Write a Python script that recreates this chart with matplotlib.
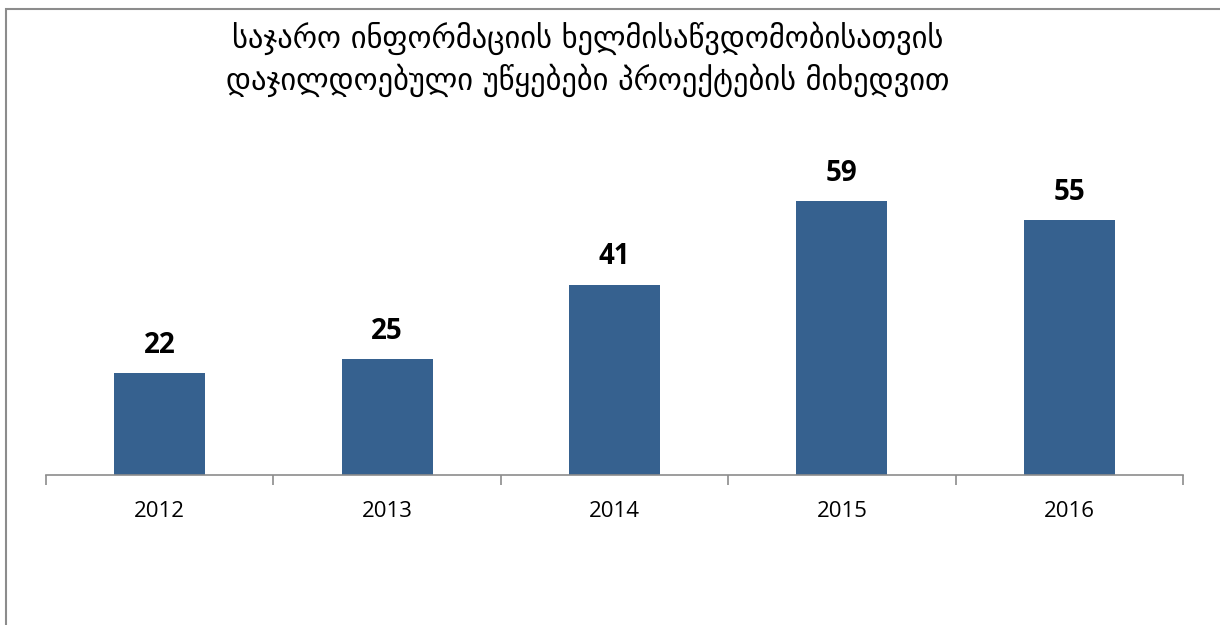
import matplotlib
matplotlib.use("Agg")
import matplotlib.pyplot as plt
from matplotlib.patches import Rectangle

years = ["2012", "2013", "2014", "2015", "2016"]
values = [22, 25, 41, 59, 55]
title_lines = ["საჯარო ინფორმაციის ხელმისაწვდომობისათვის",
               "დაჯილდოებული უწყებები პროექტების მიხედვით"]

W, H = 1220, 625
fig = plt.figure(figsize=(W / 100, H / 100), dpi=100)

# outer chart border (top & left visible)
fig.patches.append(Rectangle((6 / W, -0.1), 1.2, (H - 9) / H + 0.1, transform=fig.transFigure,
                             fill=False, edgecolor="#8c8c8c", linewidth=1.5))

ymax = 70
px_per_unit = 4.64
top_px = 475 - px_per_unit * ymax
ax = fig.add_axes([46 / W, 1 - 475 / H, (1183 - 46) / W, (475 - top_px) / H])
x = list(range(len(years)))
ax.bar(x, values, width=0.4, color="#36618F", zorder=2)
ax.set_xlim(-0.5, len(years) - 0.5)
ax.set_ylim(0, ymax)
for s in ["top", "right", "left"]:
    ax.spines[s].set_visible(False)
ax.spines["bottom"].set_color("#8c8c8c")
ax.spines["bottom"].set_linewidth(1.2)
ax.set_yticks([])
ax.set_xticks([i - 0.5 for i in range(len(years) + 1)])
ax.set_xticklabels([])
ax.set_xticks(x, minor=True)
ax.set_xticklabels(years, minor=True, fontsize=16, family=["Open Sans", "DejaVu Sans"])
ax.tick_params(axis="x", which="major", length=7, color="#8c8c8c", width=1.2)
ax.tick_params(axis="x", which="minor", length=0, pad=19)

for xi, v in zip(x, values):
    ax.annotate(str(v), (xi, v), xytext=(0, 20), textcoords="offset points",
                ha="center", va="center", fontsize=20, fontweight="bold",
                family=["Open Sans", "DejaVu Sans"])

fig.text(588 / W, 1 - 38 / H, title_lines[0], ha="center", va="center", fontsize=22,
         family=["DejaVu Sans"])
fig.text(588 / W, 1 - 80 / H, title_lines[1], ha="center", va="center", fontsize=22,
         family=["DejaVu Sans"])

fig.savefig("out.png", dpi=100)
